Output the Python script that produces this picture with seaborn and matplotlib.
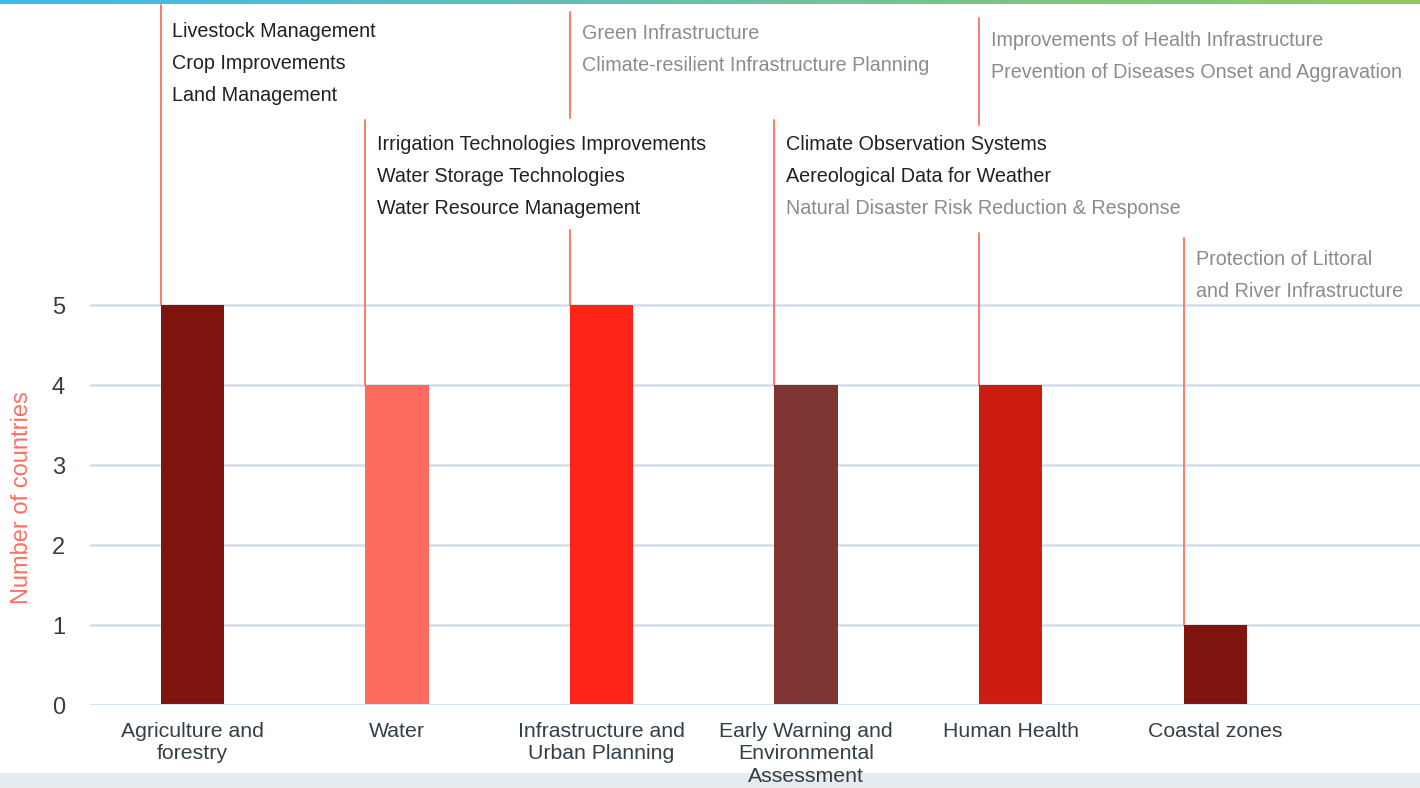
import numpy as np
import matplotlib
matplotlib.use("Agg")
import matplotlib.pyplot as plt
import seaborn as sns
import pandas as pd

# ---- data ----
categories = [
    "Agriculture and\nforestry",
    "Water",
    "Infrastructure and\nUrban Planning",
    "Early Warning and\nEnvironmental\nAssessment",
    "Human Health",
    "Coastal zones",
]
counts = [5, 4, 5, 4, 4, 1]
bar_colors = ["#7e140d", "#ff6b5f", "#ff2418", "#7f3531", "#cd1d12", "#7e140d"]

measures = [
    ["Livestock Management", "Crop Improvements", "Land Management"],
    ["Irrigation Technologies Improvements", "Water Storage Technologies",
     "Water Resource Management"],
    ["Green Infrastructure", "Climate-resilient Infrastructure Planning"],
    ["Climate Observation Systems", "Aereological Data for Weather",
     "Natural Disaster Risk Reduction & Response"],
    ["Improvements of Health Infrastructure",
     "Prevention of Diseases Onset and Aggravation"],
    ["Protection of Littoral", "and River Infrastructure"],
]
# True = highlighted (dark) measure, False = greyed out
measure_dark = [
    [True, True, True],
    [True, True, True],
    [False, False],
    [True, True, False],
    [False, False],
    [False, False],
]
# annotation layout (in units of the y axis)
ann_line_top = [8.75, 7.31, 8.66, 7.31, 8.59, 5.84]
ann_text_top = [8.42, 7.01, 8.39, 7.01, 8.31, 5.57]
ann_gap = [None, None, (5.94, 7.34), None, (5.90, 7.25), None]

TICK_COLOR = "#333f48"
ACCENT = "#ff6f61"
bar_width = 0.31

df = pd.DataFrame({"category": categories, "count": counts})

sns.set_style("white")
plt.rcParams["font.family"] = ["Liberation Sans", "DejaVu Sans"]

fig = plt.figure(figsize=(14.2, 7.88), dpi=100)
W, H = 1420, 788

# background: gradient strip on top, grey band at bottom
bg = fig.add_axes([0, 0, 1, 1], zorder=-1)
bg.set_xlim(0, W)
bg.set_ylim(H, 0)
bg.axis("off")
grad = np.linspace(0, 1, 256).reshape(1, -1)
cmap = matplotlib.colors.LinearSegmentedColormap.from_list("g", ["#3cbbef", "#93c95a"])
bg.imshow(grad, extent=[0, W, 4, 0], aspect="auto", cmap=cmap)
bg.add_patch(plt.Rectangle((0, 773), W, H - 773, color="#e6ebef", lw=0))

ax = fig.add_axes([90 / W, (H - 705) / H, (W - 90) / W, 705 / H])
ax.patch.set_alpha(0)

sns.barplot(data=df, x="category", y="count", hue="category",
            palette=bar_colors, width=bar_width, legend=False,
            saturation=1, linewidth=0, ax=ax, zorder=3)

ax.set_xlim(-0.5, 6.0)
ax.set_ylim(0, 705 / 80)
ax.set_yticks(range(0, 6))
for y in range(1, 6):
    ax.axhline(y, color="#d3dfe7", lw=1.8, zorder=1)
ax.axhline(0, color="#cde6f5", lw=2.2, zorder=4)

for s in ax.spines.values():
    s.set_visible(False)
ax.tick_params(axis="both", length=0, colors=TICK_COLOR)
ax.tick_params(axis="x", labelsize=15.3, pad=12)
ax.tick_params(axis="y", labelsize=17, pad=18)
for lbl in ax.get_xticklabels():
    lbl.set_linespacing(1.25)
ax.set_xlabel("")
ax.set_ylabel("Number of countries", color=ACCENT, fontsize=17)
ax.yaxis.label.set(ha="center", va="center")
ax.yaxis.set_label_coords(-0.051, (705 - 498) / 705)

# measures annotations
step = 0.4
for i, (items, dark) in enumerate(zip(measures, measure_dark)):
    x0 = i - bar_width / 2
    y_bottom = counts[i]
    gap = ann_gap[i]
    if gap is None:
        ax.plot([x0, x0], [y_bottom, ann_line_top[i]], color=ACCENT, lw=1.3, zorder=2)
    else:
        ax.plot([x0, x0], [y_bottom, gap[0]], color=ACCENT, lw=1.3, zorder=2)
        ax.plot([x0, x0], [gap[1], ann_line_top[i]], color=ACCENT, lw=1.3, zorder=2)
    for j, (txt, d) in enumerate(zip(items, dark)):
        ax.text(x0 + 0.058, ann_text_top[i] - j * step, txt,
                color="#1e2226" if d else "#8c8c8c",
                fontsize=14.2, va="center", ha="left", zorder=5)

fig.savefig("out.png", dpi=100)
